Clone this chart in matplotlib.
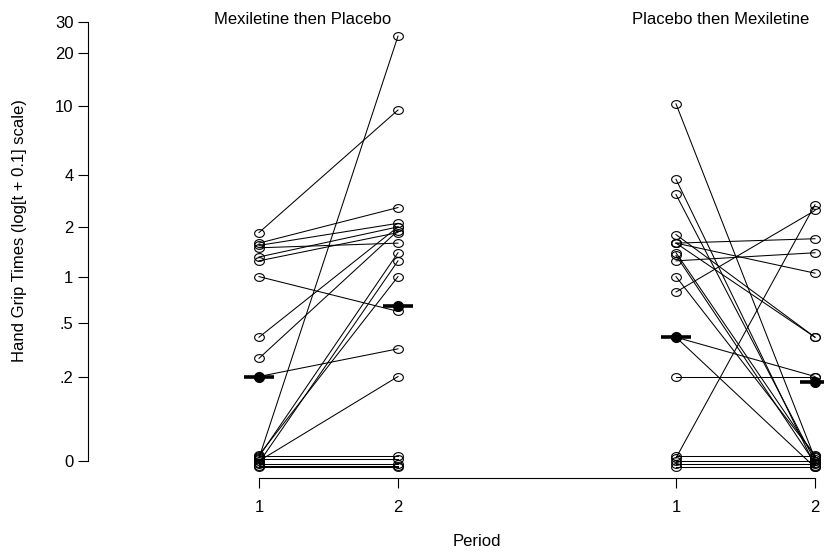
import numpy as np
import matplotlib
matplotlib.use("Agg")
import matplotlib.pyplot as plt
from matplotlib.path import Path

plt.rcParams['font.family'] = ['Liberation Sans', 'DejaVu Sans']
plt.rcParams['font.size'] = 12

# hand grip times (seconds), one entry per subject, period 1 / period 2
# (values near 0 are slightly jittered in the original plot)
mex_pla_p1 = [0.004, 1.85, 1.6, 1.55, 1.5, 1.32, 1.25, 1.0, 0.4, 0.28, 0.2,
              0.006, -0.002, 0.008, 0.0, -0.006, 0.003, -0.004, 0.007, -0.008]
mex_pla_p2 = [25, 9.5, 2.6, 2.1, 1.6, 2.0, 1.85, 0.6, 2.0, 1.9, 0.33,
              1.4, 1.25, 1.0, 0.2, -0.006, 0.003, -0.004, 0.007, -0.008]

pla_mex_p1 = [10.3, 3.8, 3.1, 1.8, 1.6, 1.6, 1.6, 1.4, 1.35, 1.25, 1.0, 0.8,
              0.4, 0.4, 0.2, 0.004, 0.0, -0.004, 0.007, -0.008]
pla_mex_p2 = [0.003, -0.006, 0.0, 0.4, 1.7, 1.05, 0.4, 0.006, -0.003, 1.4, 0.008,
              2.5, 0.2, -0.008, 0.2, 2.7, 0.0, -0.004, 0.007, -0.008]

mex_pla_med = [0.2, 0.65]
pla_mex_med = [0.4, 0.18]

group_titles = ["Mexiletine then Placebo", "Placebo then Mexiletine"]
ytick_vals = [0, 0.2, 0.5, 1, 2, 4, 10, 20, 30]
ytick_labs = ["0", ".2", ".5", "1", "2", "4", "10", "20", "30"]


def tr(t):
    return np.log(np.asarray(t, dtype=float) + 0.1)


# slightly flattened open circle, like the original symbols
th = np.linspace(0, 2 * np.pi, 41)
ell = Path(np.column_stack([np.cos(th), 0.8 * np.sin(th)]), closed=True)

W, H = 824, 554
fig = plt.figure(figsize=(W / 100, H / 100), dpi=100)
# axes spans from the y axis line (px 88) to the right edge, x axis line at px 478
ax = fig.add_axes([88 / W, 1 - 478 / H, (W - 88) / W, (478 - 10) / H])

groups = [(1, mex_pla_p1, mex_pla_p2, mex_pla_med),
          (4, pla_mex_p1, pla_mex_p2, pla_mex_med)]

for x0, p1, p2, med in groups:
    y1 = tr(p1)
    y2 = tr(p2)
    for a, b in zip(y1, y2):
        ax.plot([x0, x0 + 1], [a, b], color='black', lw=0.75, zorder=2)
    ax.plot(np.full(len(y1), x0), y1, linestyle='none', marker=ell, mfc='none',
            mec='black', ms=7, mew=0.8, zorder=3)
    ax.plot(np.full(len(y2), x0 + 1), y2, linestyle='none', marker=ell, mfc='none',
            mec='black', ms=7, mew=0.8, zorder=3)
    # medians
    for xm, m in zip([x0, x0 + 1], tr(med)):
        ax.plot([xm - 0.105, xm + 0.105], [m, m], color='black', lw=2.6,
                solid_capstyle='butt', zorder=4, clip_on=False)
        ax.plot([xm], [m], 'o', color='black', ms=7, zorder=5, clip_on=False)

ax.set_xlim(1 - 171 / 139, 1 + (W - 259) / 139)
ax.set_ylim(tr(0) - 17 / 76.9, tr(0) + 451 / 76.9)

for s in ['top', 'right']:
    ax.spines[s].set_visible(False)
ax.spines['left'].set_bounds(tr(0), tr(30))
ax.spines['bottom'].set_bounds(1, 5)
ax.spines['left'].set_linewidth(0.8)
ax.spines['bottom'].set_linewidth(0.8)

ax.set_yticks(tr(ytick_vals))
ax.set_yticklabels(ytick_labs)
ax.set_xticks([1, 2, 4, 5])
ax.set_xticklabels(["1", "2", "1", "2"])
ax.tick_params(axis='y', length=7, width=0.8, pad=3.5, labelsize=12)
ax.tick_params(axis='x', length=7, width=0.8, pad=9, labelsize=12)

fig.text(303 / W, 1 - 20 / H, group_titles[0], ha='center', va='center', fontsize=12)
fig.text(721 / W, 1 - 20 / H, group_titles[1], ha='center', va='center', fontsize=12)
fig.text(477 / W, 1 - 541 / H, "Period", ha='center', va='center', fontsize=12)
fig.text(20 / W, 1 - 231 / H, "Hand Grip Times (log[t + 0.1] scale)",
         ha='center', va='center', rotation=90, fontsize=12)

fig.savefig("out.png", dpi=100)
